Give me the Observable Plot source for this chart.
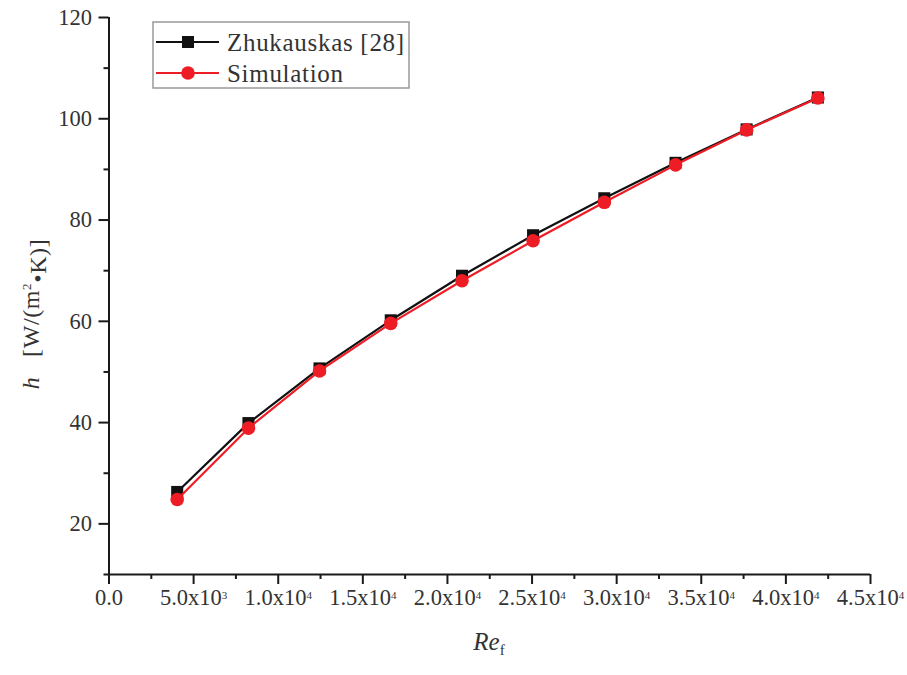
<!DOCTYPE html>
<html>
<head>
<meta charset="utf-8">
<script src="https://cdn.jsdelivr.net/npm/d3@7"></script>
<script src="https://cdn.jsdelivr.net/npm/@observablehq/plot@0.6"></script>
<style>
  html, body { margin: 0; padding: 0; background: #fff; }
  #chart { width: 907px; height: 675px; }
  #chart svg, #chart svg text, #chart svg tspan { font-family: "Liberation Serif", "Times New Roman", Times, "DejaVu Serif", serif !important; }
</style>
</head>
<body>
<div id="chart"></div>
<script>
// ---- data ----
const reynolds = [4030, 8240, 12440, 16650, 20860, 25060, 29270, 33480, 37680, 41890];
const zhukauskas = [26.3, 39.9, 50.7, 60.2, 69.0, 77.0, 84.3, 91.3, 97.9, 104.2];
const simulation = [24.8, 38.9, 50.2, 59.6, 68.0, 75.9, 83.5, 90.9, 97.8, 104.1];
const seriesNames = ["Zhukauskas [28]", "Simulation"];
const seriesColors = ["#111111", "#ee1c25"];
const xMajorTicks = [0, 5000, 10000, 15000, 20000, 25000, 30000, 35000, 40000, 45000];
const xMinorTicks = [2500, 7500, 12500, 17500, 22500, 27500, 32500, 37500, 42500];
const yMajorTicks = [20, 40, 60, 80, 100, 120];
const yMinorTicks = [10, 30, 50, 70, 90, 110];

const zData = reynolds.map((r, i) => ({x: r, y: zhukauskas[i]}));
const sData = reynolds.map((r, i) => ({x: r, y: simulation[i]}));

function fmtX(d) {
  if (d === 0) return "0.0";
  const e = Math.floor(Math.log10(d));
  return (d / Math.pow(10, e)).toFixed(1) + "x10^" + e;
}

const axisColor = "#1a1a1a";
const textColor = "#333";
const fs = 22.5;

const plot = Plot.plot({
  width: 907,
  height: 675,
  marginLeft: 108.5,
  marginRight: 37,
  marginTop: 17,
  marginBottom: 101,
  style: {color: textColor, background: "#fff"},
  x: {domain: [0, 45000]},
  y: {domain: [10, 120]},
  marks: [
    Plot.axisX({ticks: xMajorTicks, tickSize: 10, tickPadding: 5, tickFormat: fmtX, fontSize: fs, label: null, stroke: axisColor, strokeWidth: 2, fill: textColor}),
    Plot.axisX({ticks: xMinorTicks, tickSize: 5, tickFormat: () => "", label: null, stroke: axisColor, strokeWidth: 2}),
    Plot.axisY({ticks: yMajorTicks, tickSize: 10, tickPadding: 7, fontSize: fs, label: null, stroke: axisColor, strokeWidth: 2, fill: textColor}),
    Plot.axisY({ticks: yMinorTicks, tickSize: 5, tickFormat: () => "", label: null, stroke: axisColor, strokeWidth: 2}),
    Plot.ruleX([0], {stroke: axisColor, strokeWidth: 2}),
    Plot.ruleY([10], {stroke: axisColor, strokeWidth: 2}),
    Plot.line(zData, {x: "x", y: "y", stroke: seriesColors[0], strokeWidth: 2.2}),
    Plot.dot(zData, {x: "x", y: "y", symbol: "square", r: 6.8, fill: seriesColors[0], stroke: "none"}),
    Plot.line(sData, {x: "x", y: "y", stroke: seriesColors[1], strokeWidth: 2.2}),
    Plot.dot(sData, {x: "x", y: "y", symbol: "circle", r: 6.8, fill: seriesColors[1], stroke: "none"})
  ]
});

document.getElementById("chart").appendChild(plot);
const svg = d3.select(plot);

// superscripts on x tick labels
svg.selectAll('g[aria-label="x-axis tick label"] text').each(function() {
  const t = d3.select(this);
  const s = t.text();
  if (s.includes("^")) {
    const [m, e] = s.split("^");
    t.text("");
    t.append("tspan").text(m);
    t.append("tspan").attr("dy", "-0.6em").attr("font-size", "11px").text(e);
  }
});

// axis titles
const xt = svg.append("text")
  .attr("x", 489).attr("y", 650)
  .attr("text-anchor", "middle")
  .attr("fill", textColor)
  .attr("font-size", 25);
xt.append("tspan").attr("font-style", "italic").text("Re");
xt.append("tspan").attr("dy", "0.35em").attr("font-size", 15).text("f");

const yt = svg.append("text")
  .attr("transform", "translate(39,314) rotate(-90)")
  .attr("text-anchor", "middle")
  .attr("fill", textColor)
  .attr("font-size", 24)
  .attr("letter-spacing", "0.6");
yt.append("tspan").attr("font-style", "italic").text("h");
yt.append("tspan").text("\u00a0\u00a0\u00a0[W/(m");
yt.append("tspan").attr("dy", "-0.65em").attr("font-size", 13).text("2");
yt.append("tspan").attr("dy", "0.65em").text("\u2022K)]");

// legend
const lg = svg.append("g").attr("text-anchor", "start");
lg.append("rect").attr("x", 153).attr("y", 22).attr("width", 256).attr("height", 66)
  .attr("fill", "#fff").attr("stroke", "#999").attr("stroke-width", 1.5);
const rowsY = [42, 73];
seriesNames.forEach((name, i) => {
  const y = rowsY[i];
  lg.append("line").attr("x1", 156).attr("x2", 219).attr("y1", y).attr("y2", y)
    .attr("stroke", seriesColors[i]).attr("stroke-width", 2.2);
  if (i === 0) {
    lg.append("rect").attr("x", 188 - 6).attr("y", y - 6).attr("width", 12).attr("height", 12).attr("fill", seriesColors[i]);
  } else {
    lg.append("circle").attr("cx", 188).attr("cy", y).attr("r", 6.8).attr("fill", seriesColors[i]);
  }
  lg.append("text").attr("x", 227).attr("y", y + 8.5).attr("font-size", 25)
    .attr("letter-spacing", "0.7").attr("fill", textColor).attr("text-anchor", "start").text(name);
});
</script>
</body>
</html>
